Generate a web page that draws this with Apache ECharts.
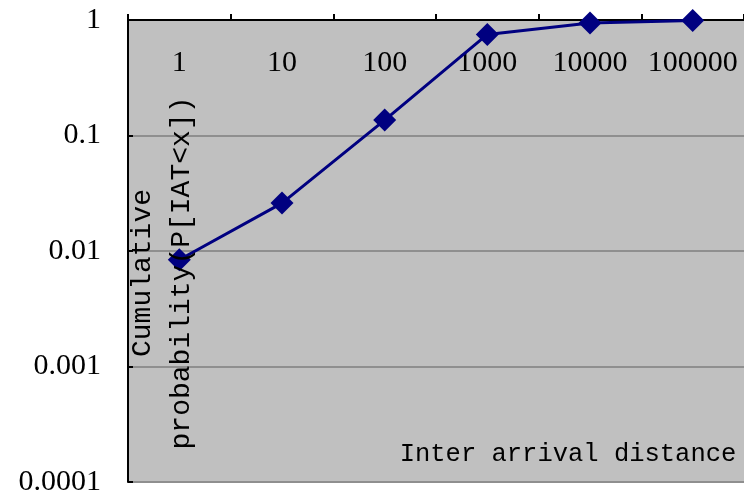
<!DOCTYPE html>
<html>
<head>
<meta charset="utf-8">
<script src="https://cdn.jsdelivr.net/npm/echarts@6/dist/echarts.min.js"></script>
<style>
html,body{margin:0;padding:0;background:#fff;}
#chart{width:744px;height:498px;}
</style>
</head>
<body>
<div id="chart"></div>
<script>
var categories = ['1', '10', '100', '1000', '10000', '100000'];
var cumulativeProbability = [0.0084, 0.026, 0.136, 0.75, 0.94, 0.99];
var yTickLabels = ['0.0001', '0.001', '0.01', '0.1', '1'];
var xTitle = 'Inter arrival distance';
var yTitle = 'Cumulative\nprobability(P[IAT<x])';

var chart = echarts.init(document.getElementById('chart'), null, {renderer: 'canvas'});
var numFont = 'Liberation Serif';

chart.setOption({
  animation: false,
  backgroundColor: '#ffffff',
  grid: {
    left: 128, top: 20, right: -2, bottom: 16,
    show: true, backgroundColor: '#C0C0C0', borderWidth: 0
  },
  xAxis: {
    type: 'category',
    position: 'top',
    data: categories,
    boundaryGap: true,
    axisLine: {show: true, lineStyle: {color: '#000', width: 2}},
    axisTick: {show: true, interval: 0, inside: false, length: 6, lineStyle: {color: '#000', width: 2}},
    axisLabel: {inside: true, interval: 0, margin: 28, color: '#000', fontFamily: numFont, fontSize: 30},
    splitLine: {show: false}
  },
  yAxis: {
    type: 'log',
    logBase: 10,
    min: 0.0001,
    max: 1,
    interval: 1,
    axisLine: {show: true, onZero: false, lineStyle: {color: '#000', width: 2}},
    axisTick: {show: true, inside: true, length: 5, lineStyle: {color: '#000', width: 2}},
    axisLabel: {
      margin: 27, color: '#000', fontFamily: numFont, fontSize: 30,
      formatter: function (v) {
        var i = Math.round(Math.log(v) / Math.LN10) + 4;
        return yTickLabels[i] !== undefined ? yTickLabels[i] : '';
      }
    },
    splitLine: {show: true, lineStyle: {color: '#8f8f8f', width: 2}}
  },
  series: [{
    type: 'line',
    data: cumulativeProbability,
    symbol: 'diamond',
    symbolSize: 23,
    lineStyle: {color: '#000080', width: 3},
    itemStyle: {color: '#000080'}
  }],
  graphic: [
    {
      type: 'text', x: 568, y: 454, z: 100,
      style: {text: xTitle, font: '25.5px "Liberation Mono"', fill: '#000', textAlign: 'center', textVerticalAlign: 'middle'}
    },
    {
      type: 'text', x: 162, y: 273, rotation: Math.PI / 2, z: 100,
      style: {text: yTitle, font: '28px "Liberation Mono"', fill: '#000', textAlign: 'center', textVerticalAlign: 'middle', lineHeight: 39}
    }
  ]
});
</script>
</body>
</html>
